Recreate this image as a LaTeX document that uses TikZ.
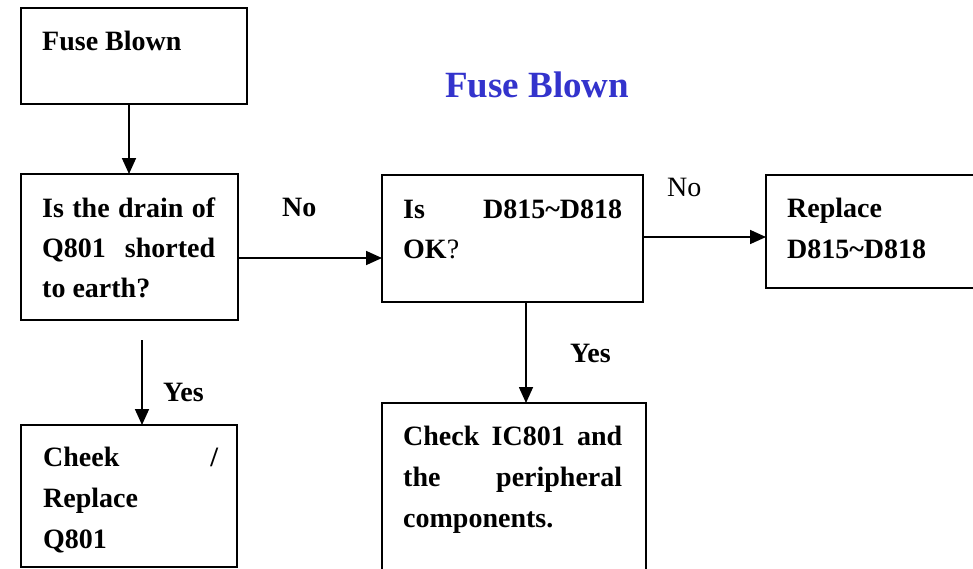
\documentclass[tikz,border=0pt]{standalone}
\usepackage{fontspec}
\setmainfont{Liberation Serif}
\usetikzlibrary{arrows.meta}
\definecolor{titleblue}{RGB}{51,51,204}
\begin{document}
\begin{tikzpicture}[x=1pt,y=-1pt,
  box/.style={draw,line width=2pt,anchor=north west,inner sep=0pt,outer sep=0pt},
  txt/.style={anchor=base west,inner sep=0pt,font=\fontsize{28}{40}\selectfont\bfseries},
  lblb/.style={anchor=base west,inner sep=0pt,font=\fontsize{28}{40}\selectfont\bfseries},
  lbln/.style={anchor=base west,inner sep=0pt,font=\fontsize{28}{40}\selectfont},
  arr/.style={line width=1.7pt,-{Triangle[length=16pt,width=14pt]}}]
\useasboundingbox (0,0) rectangle (973,568);
\clip (0,0) rectangle (973,568);
% boxes
\node[box,minimum width=226pt,minimum height=96pt] (fuse) at (21,8) {};
\node[box,minimum width=217pt,minimum height=146pt] (drain) at (21,174) {};
\node[box,minimum width=261pt,minimum height=127pt] (d815) at (382,175) {};
\node[box,minimum width=230pt,minimum height=113pt] (rep) at (766,175) {};
\node[box,minimum width=216pt,minimum height=142pt] (cheek) at (21,425) {};
\node[box,minimum width=264pt,minimum height=180pt] (ic) at (382,403) {};
% title
\node[anchor=base west,inner sep=0pt,text=titleblue,font=\fontsize{37}{40}\selectfont\bfseries] (title) at (445,97) {Fuse Blown};
% texts
\node[txt] (tf) at (42,50) {Fuse Blown};
\node[txt] (td1) at (42,217) {\hbox to 173pt{Is\hfil the\hfil drain\hfil of}};
\node[txt] (td2) at (42,257) {\hbox to 173pt{Q801\hfil shorted}};
\node[txt] (td3) at (42,297) {to earth?};
\node[txt] (tk1) at (403,218) {\hbox to 219pt{Is\hfil D815\textasciitilde D818}};
\node[txt] (tk2) at (403,258) {OK\mdseries ?};
\node[txt] (tr1) at (787,217) {Replace};
\node[txt] (tr2) at (787,258) {D815\textasciitilde D818};
\node[txt] (tc1) at (43,466) {\hbox to 175pt{Cheek\hfil /}};
\node[txt] (tc2) at (43,507) {Replace};
\node[txt] (tc3) at (43,548) {Q801};
\node[txt] (ti1) at (403,445) {\hbox to 219pt{Check\hfil IC801\hfil and}};
\node[txt] (ti2) at (403,486) {\hbox to 219pt{the\hfil peripheral}};
\node[txt] (ti3) at (403,527) {components.};
% labels
\node[lblb] (no1) at (282,216) {No};
\node[lbln] (no2) at (667,196) {No};
\node[lblb] (yes1) at (163,401) {Yes};
\node[lblb] (yes2) at (570,362) {Yes};
% connectors
\coordinate (a0) at (129,104);
\coordinate (a1) at (238,258);
\coordinate (a2) at (643,237);
\coordinate (a3) at (526,302);
\coordinate (a4) at (142,340);
\draw[arr] (a0) -- (a0 |- drain.north);
\draw[arr] (a1) -- (a1 -| d815.west);
\draw[arr] (a2) -- (a2 -| rep.west);
\draw[arr] (a3) -- (a3 |- ic.north);
\draw[arr] (a4) -- (a4 |- cheek.north);
\end{tikzpicture}
\end{document}
